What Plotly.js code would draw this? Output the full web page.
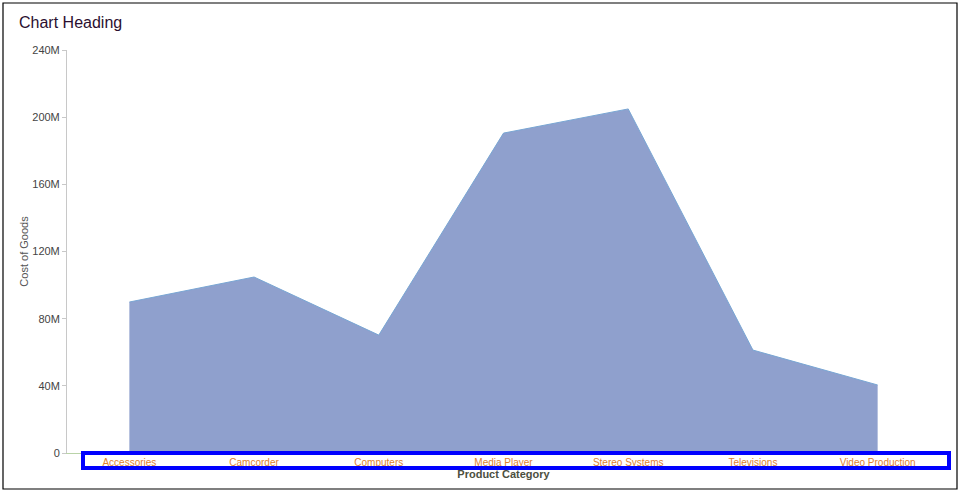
<!DOCTYPE html>
<html>
<head>
<meta charset="utf-8">
<script src="https://cdn.plot.ly/plotly-3.0.1.min.js"></script>
<style>
  html, body { margin: 0; padding: 0; background: #fff; }
  #chart { width: 961px; height: 492px; }
</style>
</head>
<body>
<div id="chart"></div>
<script>
const categories = ["Accessories", "Camcorder", "Computers", "Media Player", "Stereo Systems", "Televisions", "Video Production"];
const costOfGoods = [89.9e6, 104.8e6, 70.2e6, 190.5e6, 204.9e6, 61.3e6, 40.5e6];
const yTickVals = [0, 40e6, 80e6, 120e6, 160e6, 200e6, 240e6];
const yTickText = ["0", "40M", "80M", "120M", "160M", "200M", "240M"];

const trace = {
  type: "scatter",
  mode: "lines",
  x: categories,
  y: costOfGoods,
  fill: "tozeroy",
  fillcolor: "#8fa0cd",
  line: { color: "#79a6d3", width: 1 },
  hoverinfo: "x+y"
};

const layout = {
  width: 961,
  height: 492,
  margin: { l: 67, r: 21, t: 50, b: 39 },
  paper_bgcolor: "#ffffff",
  plot_bgcolor: "#ffffff",
  font: { family: "Liberation Sans, Arial, sans-serif", size: 11, color: "#444" },
  showlegend: false,
  title: {
    text: "Chart Heading",
    xref: "container", x: 19/961, xanchor: "left",
    yref: "container", y: 1 - 22/492, yanchor: "middle",
    font: { size: 16, color: "#2b0f2f", family: "Liberation Sans, Arial, sans-serif" }
  },
  xaxis: {
    type: "category",
    range: [-0.5, 6.5],
    showgrid: false,
    zeroline: false,
    showline: true,
    linecolor: "#b9d3a8",
    linewidth: 1,
    ticks: "",
    tickfont: { size: 10, color: "#e0802e" },
    automargin: false,
    title: {
      text: "Product Category",
      standoff: 2,
      font: { size: 11, color: "#4d5040", family: "Liberation Sans, Arial, sans-serif", weight: "bold" }
    }
  },
  yaxis: {
    range: [0, 240e6],
    tickvals: yTickVals,
    ticktext: yTickText,
    showgrid: false,
    zeroline: false,
    showline: true,
    linecolor: "#c8c8c8",
    linewidth: 1,
    ticks: "outside",
    ticklen: 4,
    tickcolor: "#c8c8c8",
    tickfont: { size: 11, color: "#444" },
    automargin: false,
    title: {
      text: "Cost of Goods",
      standoff: 1,
      font: { size: 11, color: "#555", family: "Liberation Sans, Arial, sans-serif" }
    }
  },
  shapes: [
    { type: "rect", xref: "paper", yref: "paper",
      x0: -64/873, x1: (957-67)/873, y0: (453-489)/403, y1: (453-3)/403,
      line: { color: "#000", width: 1.2 }, fillcolor: "rgba(0,0,0,0)", layer: "above" },
    { type: "rect", xref: "paper", yref: "paper",
      x0: (83-67)/873, x1: (949-67)/873, y0: (453-468)/403, y1: (453-453)/403,
      line: { color: "#0000ff", width: 4 }, fillcolor: "rgba(0,0,0,0)", layer: "above" }
  ]
};

Plotly.newPlot("chart", [trace], layout, { displayModeBar: false, staticPlot: true });
</script>
</body>
</html>
